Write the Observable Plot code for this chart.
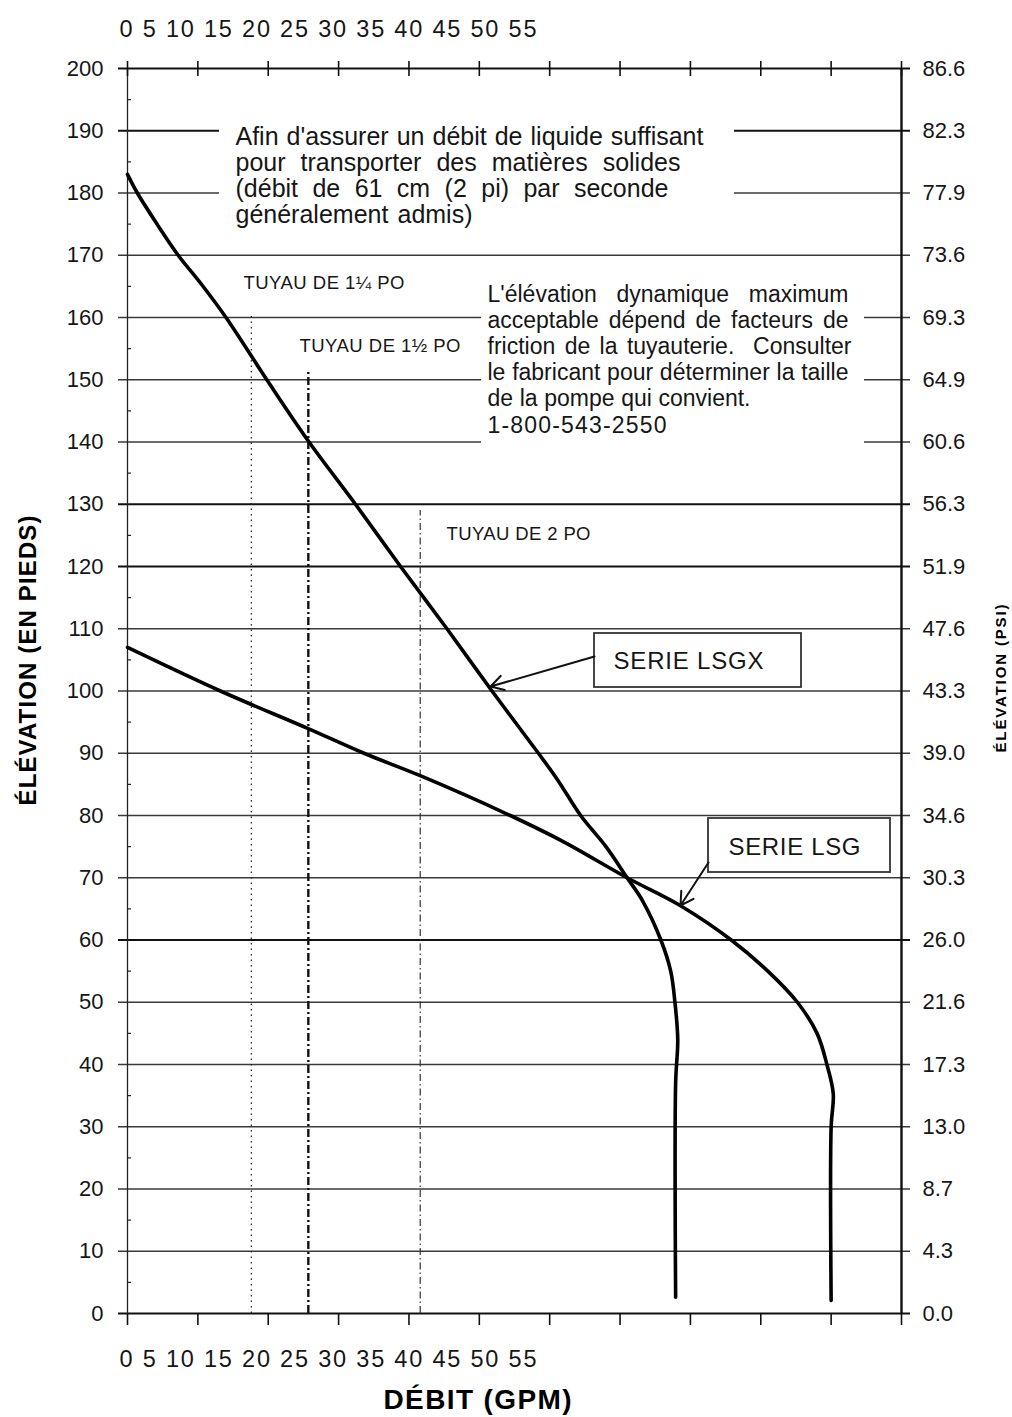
<!DOCTYPE html>
<html>
<head>
<meta charset="utf-8">
<script src="https://cdn.jsdelivr.net/npm/d3@7"></script>
<script src="https://cdn.jsdelivr.net/npm/@observablehq/plot@0.6"></script>
<style>
  body { margin: 0; background: #fff; }
  #chart svg { display: block; }
</style>
</head>
<body>
<div id="chart"></div>
<script>
// ---------------- data ----------------
const gpmTicks = [0, 5, 10, 15, 20, 25, 30, 35, 40, 45, 50, 55];
const xTickLabels = ["0", "5", "10", "15", "20", "25", "30", "35", "40", "45", "50", "55"];
const feetTicks = [0, 10, 20, 30, 40, 50, 60, 70, 80, 90, 100, 110, 120, 130, 140, 150, 160, 170, 180, 190, 200];
const psiLabels = ["0.0", "4.3", "8.7", "13.0", "17.3", "21.6", "26.0", "30.3", "34.6", "39.0", "43.3",
                   "47.6", "51.9", "56.3", "60.6", "64.9", "69.3", "73.6", "77.9", "82.3", "86.6"];
const minorFeet = [5, 15, 25, 35, 45, 55, 65, 75, 85, 95, 105, 115, 125, 135, 145, 155, 165, 175, 185, 195];
const heavyFeet = [0, 60, 120, 130, 190, 200];

const lsgxGpm  = [0, 0.7, 2.1, 3.6, 5.2, 7.0, 9.9, 12.9, 16.2, 19.4, 22.7, 25.9, 29.2, 30.6, 32.2, 34.0, 35.5, 36.6, 37.9, 38.6, 38.9, 39.1, 38.95, 38.95];
const lsgxFeet = [183, 180, 175, 170, 165.5, 160, 150, 140, 130, 120, 110, 100, 90, 85.6, 80, 75, 70, 66.3, 60, 55, 50, 44, 37, 2.6];

const lsgGpm  = [0, 6.6, 12.8, 16.8, 20.8, 27.2, 30.8, 35.5, 39.3, 42.9, 45.5, 47.6, 49.0, 49.7, 50.15, 50.0, 50.0];
const lsgFeet = [107, 100, 94, 90, 86.4, 80, 76, 70, 65.5, 60, 55, 50, 45, 40, 35.3, 30, 2.1];

const pipeNames = ["TUYAU DE 1¼ PO", "TUYAU DE 1½ PO", "TUYAU DE 2 PO"];
const pipeGpm = [8.8, 12.85, 20.8];
const pipeTopFeet = [160.8, 151.2, 129];

const note1 = ["Afin d'assurer un débit de liquide suffisant",
               "pour transporter des matières solides",
               "(débit de 61 cm (2 pi) par seconde",
               "généralement admis)"];
const note2 = ["L'élévation dynamique maximum",
               "acceptable dépend de facteurs de",
               "friction de la tuyauterie.  Consulter",
               "le fabricant pour déterminer la taille",
               "de la pompe qui convient.",
               "1-800-543-2550"];
const seriesNames = ["SERIE LSGX", "SERIE LSG"];
const xTitle = "DÉBIT (GPM)";
const yTitle = "ÉLÉVATION (EN PIEDS)";
const y2Title = "ÉLÉVATION (PSI)";

// ---------------- layout (pixels) ----------------
const W = 1012, H = 1417;
const frame = {left: 127, right: 901, top: 68, bottom: 1313};
const gx = px => (px - frame.left) / (frame.right - frame.left) * 55;
const fy = py => (frame.bottom - py) / (frame.bottom - frame.top) * 200;
const FONT = "'Liberation Sans', Arial, Helvetica, sans-serif";
const INK = "#161616";

const lsgx = lsgxGpm.map((g, i) => ({gpm: g, ft: lsgxFeet[i]}));
const lsg = lsgGpm.map((g, i) => ({gpm: g, ft: lsgFeet[i]}));
const pipes = pipeNames.map((n, i) => ({name: n, gpm: pipeGpm[i], top: pipeTopFeet[i]}));

const pipeLabelPos = [[243, 288], [299, 351], [446, 539]];
const pipeLabelW = [161, 161, 144];
const note1Pos = {x: 235, y0: 144, step: 26.3};
const note1W = [468, 445, 433, 237];
const note2Pos = {x: 487, y0: 301, step: 26.2};
const note2W = [361, 361, 361, 361, 263, 179];

const boxes = [
  {name: seriesNames[0], x1: 594, x2: 801, y1: 633, y2: 687, tx: 688, ty: 668, w: 150, ax1: 594, ay1: 656, ax2: 490, ay2: 686},
  {name: seriesNames[1], x1: 708, x2: 890, y1: 818, y2: 872, tx: 794, ty: 854, w: 132, ax1: 708, ay1: 862, ax2: 680, ay2: 905}
];
const masks = [
  {x1: 219, x2: 734, y1: 104, y2: 224},
  {x1: 481, x2: 864, y1: 291, y2: 456}
];

const note1Data = note1.map((t, i) => ({t, x: gx(note1Pos.x), y: fy(note1Pos.y0 + i * note1Pos.step)}));
const note2Data = note2.map((t, i) => ({t, x: gx(note2Pos.x), y: fy(note2Pos.y0 + i * note2Pos.step)}));
const pipeLabelData = pipes.map((p, i) => ({t: p.name, x: gx(pipeLabelPos[i][0]), y: fy(pipeLabelPos[i][1])}));
const xLabelString = xTickLabels.join(" ");

const chart = Plot.plot({
  width: W,
  height: H,
  marginLeft: frame.left,
  marginRight: W - frame.right,
  marginTop: frame.top,
  marginBottom: H - frame.bottom,
  x: {domain: [0, 55], axis: null},
  y: {domain: [0, 200]},
  style: {fontFamily: FONT, background: "#fff", color: INK},
  marks: [
    // horizontal grid lines (extend past both axes)
    Plot.ruleY(feetTicks.filter(d => !heavyFeet.includes(d)), {y: d => d, x1: gx(118), x2: gx(910), stroke: "#3a3a3a", strokeWidth: 1.3}),
    Plot.ruleY(heavyFeet, {y: d => d, x1: gx(118), x2: gx(910), stroke: "#111", strokeWidth: 2}),
    // white backgrounds behind the notes
    Plot.rect(masks, {x1: d => gx(d.x1), x2: d => gx(d.x2), y1: d => fy(d.y1), y2: d => fy(d.y2), fill: "#fff"}),
    // minor ticks on the left axis
    Plot.ruleY(minorFeet, {y: d => d, x1: 0, x2: gx(131), stroke: "#222", strokeWidth: 1.2}),
    // axis lines
    Plot.ruleX([0], {y1: 0, y2: 200, stroke: "#222", strokeWidth: 1.3}),
    Plot.ruleX([55], {y1: 0, y2: 200, stroke: "#111", strokeWidth: 2.4}),
    // GPM ticks top and bottom
    Plot.ruleX(gpmTicks, {x: d => d, y1: fy(61), y2: fy(76), stroke: "#111", strokeWidth: 1.6}),
    Plot.ruleX(gpmTicks, {x: d => d, y1: 0, y2: fy(1325), stroke: "#111", strokeWidth: 1.6}),
    // pipe velocity reference lines
    Plot.ruleX([pipes[0]], {x: "gpm", y1: 0, y2: "top", stroke: "#222", strokeWidth: 1.2, strokeDasharray: "1.5,4"}),
    Plot.ruleX([pipes[1]], {x: "gpm", y1: 0, y2: "top", stroke: "#111", strokeWidth: 2.4, strokeDasharray: "8,3,2,3"}),
    Plot.ruleX([pipes[2]], {x: "gpm", y1: 0, y2: "top", stroke: "#333", strokeWidth: 1.2, strokeDasharray: "7,3,1.5,3"}),
    // pump curves
    Plot.line(lsgx, {x: "gpm", y: "ft", curve: "catmull-rom", stroke: "#000", strokeWidth: 3.6}),
    Plot.line(lsg, {x: "gpm", y: "ft", curve: "catmull-rom", stroke: "#000", strokeWidth: 3.6}),
    // series boxes and arrows
    Plot.rect(boxes, {x1: d => gx(d.x1), x2: d => gx(d.x2), y1: d => fy(d.y1), y2: d => fy(d.y2), fill: "#fff", stroke: "#333", strokeWidth: 1.8}),
    Plot.arrow(boxes, {x1: d => gx(d.ax1), y1: d => fy(d.ay1), x2: d => gx(d.ax2), y2: d => fy(d.ay2), stroke: "#111", strokeWidth: 2, headLength: 11}),
    Plot.text(boxes, {x: d => gx(d.tx), y: d => fy(d.ty), text: "name", fontSize: 24, lineAnchor: "bottom", textAnchor: "middle", fill: INK}),
    // notes
    Plot.text(note1Data, {x: "x", y: "y", text: "t", fontSize: 25, textAnchor: "start", lineAnchor: "bottom", fill: INK}),
    Plot.text(note2Data, {x: "x", y: "y", text: "t", fontSize: 23, textAnchor: "start", lineAnchor: "bottom", fill: INK}),
    Plot.text(pipeLabelData, {x: "x", y: "y", text: "t", fontSize: 18.5, textAnchor: "start", lineAnchor: "bottom", fill: INK}),
    // GPM tick labels (crowded at the left, as in the original)
    Plot.text([xLabelString], {x: gx(119), y: fy(36), text: d => d, fontSize: 23.5, textAnchor: "start", lineAnchor: "bottom", fill: INK}),
    Plot.text([xLabelString], {x: gx(119), y: fy(1366), text: d => d, fontSize: 23.5, textAnchor: "start", lineAnchor: "bottom", fill: INK}),
    // axes
    Plot.axisY(feetTicks, {anchor: "left", tickSize: 0, tickPadding: 24, fontSize: 22, label: null, fill: INK}),
    Plot.axisY(feetTicks, {anchor: "right", tickSize: 0, tickPadding: 21, fontSize: 22, label: null, fill: INK,
                           tickFormat: d => psiLabels[feetTicks.indexOf(d)]}),
    // axis titles
    Plot.text([xTitle], {x: gx(477), y: fy(1408), text: d => d, fontSize: 28, fontWeight: "bold", textAnchor: "middle", lineAnchor: "bottom", fill: "#000"}),
    Plot.text([yTitle], {x: gx(28), y: fy(660), text: d => d, fontSize: 24, fontWeight: "bold", rotate: -90, textAnchor: "middle", lineAnchor: "middle", fill: "#000"}),
    Plot.text([y2Title], {x: gx(1001), y: fy(678), text: d => d, fontSize: 15, fontWeight: "bold", rotate: -90, textAnchor: "middle", lineAnchor: "middle", fill: "#000"})
  ]
});

document.getElementById("chart").append(chart);

// fit text lines to the widths they occupy in the original print layout:
// note lines are justified with word spacing, other labels with letter spacing
const norm = s => s.replace(/\s+/g, " ").trim();
const justified = new Map();
note1.forEach((t, i) => justified.set(norm(t), note1W[i]));
note2.forEach((t, i) => justified.set(norm(t), note2W[i]));
const spaced = new Map();
pipeNames.forEach((t, i) => spaced.set(norm(t), pipeLabelW[i]));
boxes.forEach(b => spaced.set(norm(b.name), b.w));
spaced.set(norm(xLabelString), 417);
spaced.set(norm(xTitle), 188);
spaced.set(norm(yTitle), 290);
spaced.set(norm(y2Title), 148);

chart.querySelectorAll("text").forEach(n => {
  const key = norm(n.textContent);
  if (justified.has(key)) {
    const target = justified.get(key);
    const spaces = (key.match(/ /g) || []).length;
    const natural = n.getComputedTextLength();
    if (spaces > 0) {
      n.style.wordSpacing = ((target - natural) / spaces).toFixed(2) + "px";
    } else {
      n.setAttribute("textLength", target);
      n.setAttribute("lengthAdjust", "spacing");
    }
  } else if (spaced.has(key)) {
    n.setAttribute("textLength", spaced.get(key));
    n.setAttribute("lengthAdjust", "spacing");
  }
});
</script>
</body>
</html>
